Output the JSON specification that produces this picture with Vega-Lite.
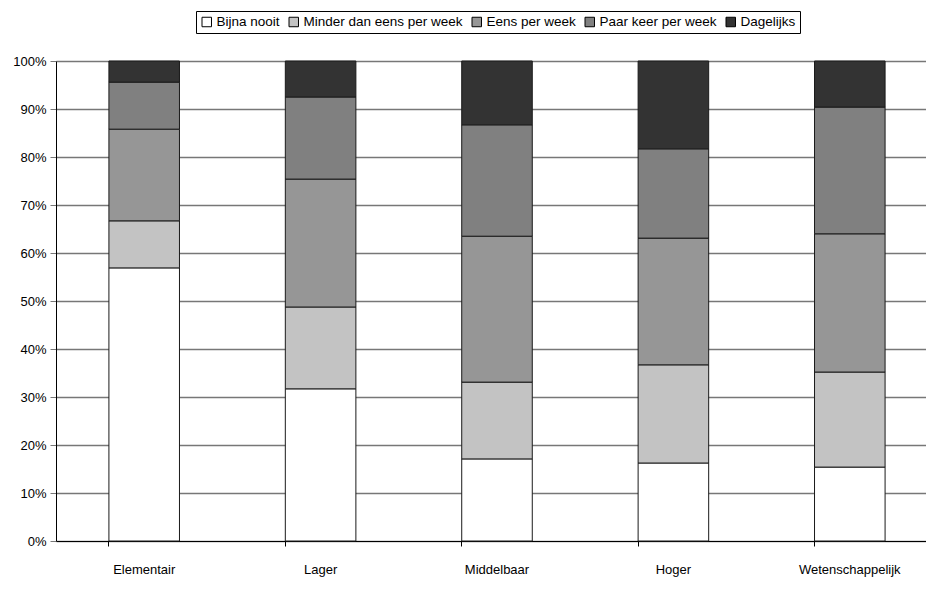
{
  "$schema": "https://vega.github.io/schema/vega-lite/v6.json",
  "autosize": {"type": "none"},
  "padding": {"left": 56, "top": 61, "right": 0, "bottom": 48},
  "width": 882,
  "height": 480,
  "background": "white",
  "config": {
    "view": {"stroke": null},
    "font": "Liberation Sans"
  },
  "data": {
    "values": [
      {"niveau": "Elementair", "freq": "Bijna nooit", "k": 1, "pct": 56.9},
      {"niveau": "Elementair", "freq": "Minder dan eens per week", "k": 2, "pct": 9.8},
      {"niveau": "Elementair", "freq": "Eens per week", "k": 3, "pct": 19.1},
      {"niveau": "Elementair", "freq": "Paar keer per week", "k": 4, "pct": 9.8},
      {"niveau": "Elementair", "freq": "Dagelijks", "k": 5, "pct": 4.4},
      {"niveau": "Lager", "freq": "Bijna nooit", "k": 1, "pct": 31.7},
      {"niveau": "Lager", "freq": "Minder dan eens per week", "k": 2, "pct": 17.05},
      {"niveau": "Lager", "freq": "Eens per week", "k": 3, "pct": 26.65},
      {"niveau": "Lager", "freq": "Paar keer per week", "k": 4, "pct": 17.1},
      {"niveau": "Lager", "freq": "Dagelijks", "k": 5, "pct": 7.5},
      {"niveau": "Middelbaar", "freq": "Bijna nooit", "k": 1, "pct": 17.1},
      {"niveau": "Middelbaar", "freq": "Minder dan eens per week", "k": 2, "pct": 16.0},
      {"niveau": "Middelbaar", "freq": "Eens per week", "k": 3, "pct": 30.4},
      {"niveau": "Middelbaar", "freq": "Paar keer per week", "k": 4, "pct": 23.2},
      {"niveau": "Middelbaar", "freq": "Dagelijks", "k": 5, "pct": 13.3},
      {"niveau": "Hoger", "freq": "Bijna nooit", "k": 1, "pct": 16.25},
      {"niveau": "Hoger", "freq": "Minder dan eens per week", "k": 2, "pct": 20.45},
      {"niveau": "Hoger", "freq": "Eens per week", "k": 3, "pct": 26.4},
      {"niveau": "Hoger", "freq": "Paar keer per week", "k": 4, "pct": 18.6},
      {"niveau": "Hoger", "freq": "Dagelijks", "k": 5, "pct": 18.3},
      {"niveau": "Wetenschappelijk", "freq": "Bijna nooit", "k": 1, "pct": 15.4},
      {"niveau": "Wetenschappelijk", "freq": "Minder dan eens per week", "k": 2, "pct": 19.8},
      {"niveau": "Wetenschappelijk", "freq": "Eens per week", "k": 3, "pct": 28.8},
      {"niveau": "Wetenschappelijk", "freq": "Paar keer per week", "k": 4, "pct": 26.4},
      {"niveau": "Wetenschappelijk", "freq": "Dagelijks", "k": 5, "pct": 9.6}
    ]
  },
  "mark": {"type": "bar", "stroke": "#1a1a1a", "strokeWidth": 1},
  "encoding": {
    "x": {
      "field": "niveau",
      "type": "nominal",
      "sort": ["Elementair", "Lager", "Middelbaar", "Hoger", "Wetenschappelijk"],
      "scale": {"paddingInner": 0.6, "paddingOuter": 0.3},
      "axis": {
        "title": null,
        "labelAngle": 0,
        "labelFontSize": 13,
        "labelColor": "#000",
        "labelPadding": 17,
        "bandPosition": 0,
        "domainColor": "#000",
        "domainWidth": 1,
        "tickColor": "#000",
        "tickSize": 5,
        "grid": false
      }
    },
    "y": {
      "field": "pct",
      "type": "quantitative",
      "stack": "zero",
      "scale": {"domain": [0, 100], "nice": false},
      "axis": {
        "title": null,
        "values": [0, 10, 20, 30, 40, 50, 60, 70, 80, 90, 100],
        "labelExpr": "datum.value + '%'",
        "labelFontSize": 13,
        "labelColor": "#000",
        "labelPadding": 4,
        "domainColor": "#000",
        "domainWidth": 1,
        "tickColor": "#777",
        "tickSize": 6,
        "grid": true,
        "gridColor": "#777",
        "gridWidth": 1.3,
        "gridOpacity": 1
      }
    },
    "color": {
      "field": "freq",
      "type": "nominal",
      "scale": {
        "domain": ["Bijna nooit", "Minder dan eens per week", "Eens per week", "Paar keer per week", "Dagelijks"],
        "range": ["#ffffff", "#c3c3c3", "#969696", "#808080", "#333333"]
      },
      "legend": {
        "title": null,
        "orient": "none",
        "legendX": 140,
        "legendY": -50,
        "direction": "horizontal",
        "strokeColor": "#000",
        "padding": 4,
        "symbolType": "square",
        "symbolSize": 90,
        "symbolStrokeColor": "#000",
        "symbolStrokeWidth": 1,
        "labelFontSize": 13.5,
        "labelColor": "#000",
        "labelOffset": 3,
        "columnPadding": 7,
        "symbolOffset": 0
      }
    },
    "order": {"field": "k", "type": "quantitative", "sort": "ascending"}
  }
}
